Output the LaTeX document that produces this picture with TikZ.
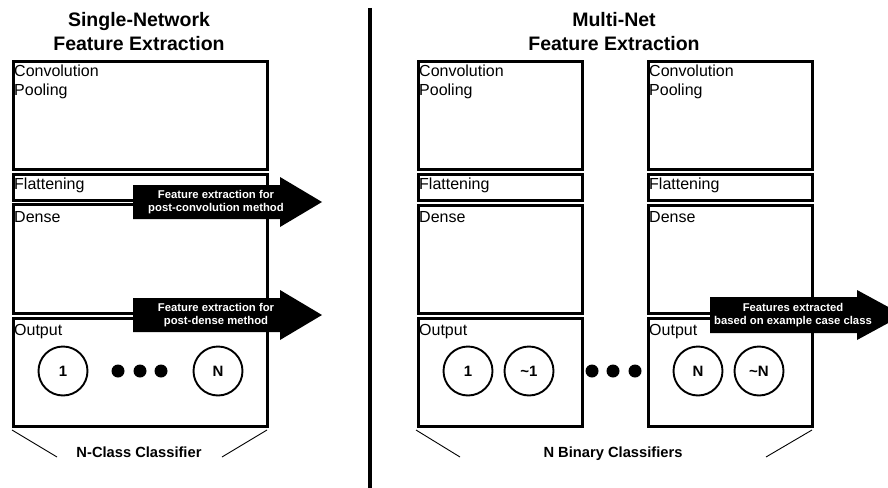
\documentclass[tikz,border=0pt]{standalone}
\usepackage{fontspec}
\setmainfont{Liberation Sans}
\begin{document}
\begin{tikzpicture}[x=1pt,y=-1pt,
  box/.style={draw, line width=2.6pt, anchor=north west, inner sep=0pt},
  lab/.style={anchor=base west, inner sep=0pt, font=\fontsize{16}{18}\selectfont},
  ttl/.style={align=center, inner sep=0pt, font=\bfseries\fontsize{19.5}{24}\selectfont},
  cls/.style={anchor=base, inner sep=0pt, font=\bfseries\fontsize{14.7}{17}\selectfont},
  unit/.style={draw, circle, line width=1.9pt, minimum size=49pt, inner sep=0pt, font=\bfseries\fontsize{15}{17}\selectfont},
  dot/.style={fill, circle, minimum size=13pt, inner sep=0pt},
  arrtext/.style={align=center, inner sep=0pt, text=white, font=\bfseries\fontsize{11.3}{13.5}\selectfont},
  bracket/.style={line width=0.9pt}]
\clip (0,0) rectangle (888,487);
\fill[white] (0,0) rectangle (888,487);

% ---------- left: single network ----------
\node[ttl] (t1) at (139,32) {Single-Network\\Feature Extraction};

\node[box, minimum width=254pt, minimum height=108pt] (lconv) at (12,60) {};
\node[box, minimum width=254pt, minimum height=26pt] (lflat) at (12,173) {};
\node[box, minimum width=254pt, minimum height=109pt] (ldense) at (12,203) {};
\node[box, minimum width=254pt, minimum height=108pt] (lout) at (12,317) {};

\node[lab] (lconvA) at (14,77) {Convolution};
\node[lab] (lconvB) at (14,95) {Pooling};
\node[lab] (lflatL) at (14,189) {Flattening};
\node[lab] (ldenseL) at (14,222) {Dense};
\node[lab] (loutL) at (14,335) {Output};

\node[unit] (l1) at (63,371) {1};
\node[dot] (ld1) at (118,371) {};
\node[dot] (ld2) at (140,371) {};
\node[dot] (ld3) at (161,371) {};
\node[unit] (lN) at (218,371) {N};

\fill (133,185) -- (280,185) -- (280,177) -- (322,202) -- (280,227) -- (280,219) -- (133,219) -- cycle;
\node[arrtext] (a1) at (216,202) {Feature extraction for\\post-convolution method};
\fill (133,298) -- (280,298) -- (280,290) -- (322,315) -- (280,340) -- (280,332) -- (133,332) -- cycle;
\node[arrtext] (a2) at (216,315) {Feature extraction for\\post-dense method};

\node[cls] (lcl) at (139,457) {N-Class Classifier};
\coordinate (lb1) at (12,430);
\coordinate (lb2) at (57,457);
\coordinate (lb3) at (222,457);
\coordinate (lb4) at (267,430);
\draw[bracket] (lb1) -- (lb2);
\draw[bracket] (lb3) -- (lb4);

% ---------- divider ----------
\coordinate (dv1) at (370,8);
\coordinate (dv2) at (370,490);
\draw[line width=3.5pt] (dv1) -- (dv2);

% ---------- right: multi-net ----------
\node[ttl] (t2) at (614,32) {Multi-Net\\Feature Extraction};

\node[box, minimum width=164pt, minimum height=108pt] (aconv) at (417,60) {};
\node[box, minimum width=164pt, minimum height=26pt] (aflat) at (417,173) {};
\node[box, minimum width=164pt, minimum height=108pt] (adense) at (417,204) {};
\node[box, minimum width=164pt, minimum height=108pt] (aout) at (417,317) {};
\node[lab] (aconvA) at (419,77) {Convolution};
\node[lab] (aconvB) at (419,95) {Pooling};
\node[lab] (aflatL) at (419,189) {Flattening};
\node[lab] (adenseL) at (419,222) {Dense};
\node[lab] (aoutL) at (419,335) {Output};

\node[box, minimum width=164pt, minimum height=108pt] (bconv) at (647,60) {};
\node[box, minimum width=164pt, minimum height=26pt] (bflat) at (647,173) {};
\node[box, minimum width=164pt, minimum height=108pt] (bdense) at (647,204) {};
\node[box, minimum width=164pt, minimum height=108pt] (bout) at (647,317) {};
\node[lab] (bconvA) at (649,77) {Convolution};
\node[lab] (bconvB) at (649,95) {Pooling};
\node[lab] (bflatL) at (649,189) {Flattening};
\node[lab] (bdenseL) at (649,222) {Dense};
\node[lab] (boutL) at (649,335) {Output};

\node[unit] (r1) at (468,371) {1};
\node[unit] (rn1) at (529,371) {\textasciitilde 1};
\node[dot] (rd1) at (592,371) {};
\node[dot] (rd2) at (613,371) {};
\node[dot] (rd3) at (635,371) {};
\node[unit] (rN) at (698,371) {N};
\node[unit] (rnN) at (759,371) {\textasciitilde N};

\fill (710,297) -- (857,297) -- (857,290) -- (903,315) -- (857,340) -- (857,333) -- (710,333) -- cycle;
\node[arrtext] (a3) at (793,315) {Features extracted\\based on example case class};

\node[cls] (rcl) at (613,457) {N Binary Classifiers};
\coordinate (rb1) at (416,430);
\coordinate (rb2) at (460,457);
\coordinate (rb3) at (766,457);
\coordinate (rb4) at (812,430);
\draw[bracket] (rb1) -- (rb2);
\draw[bracket] (rb3) -- (rb4);
\end{tikzpicture}
\end{document}
